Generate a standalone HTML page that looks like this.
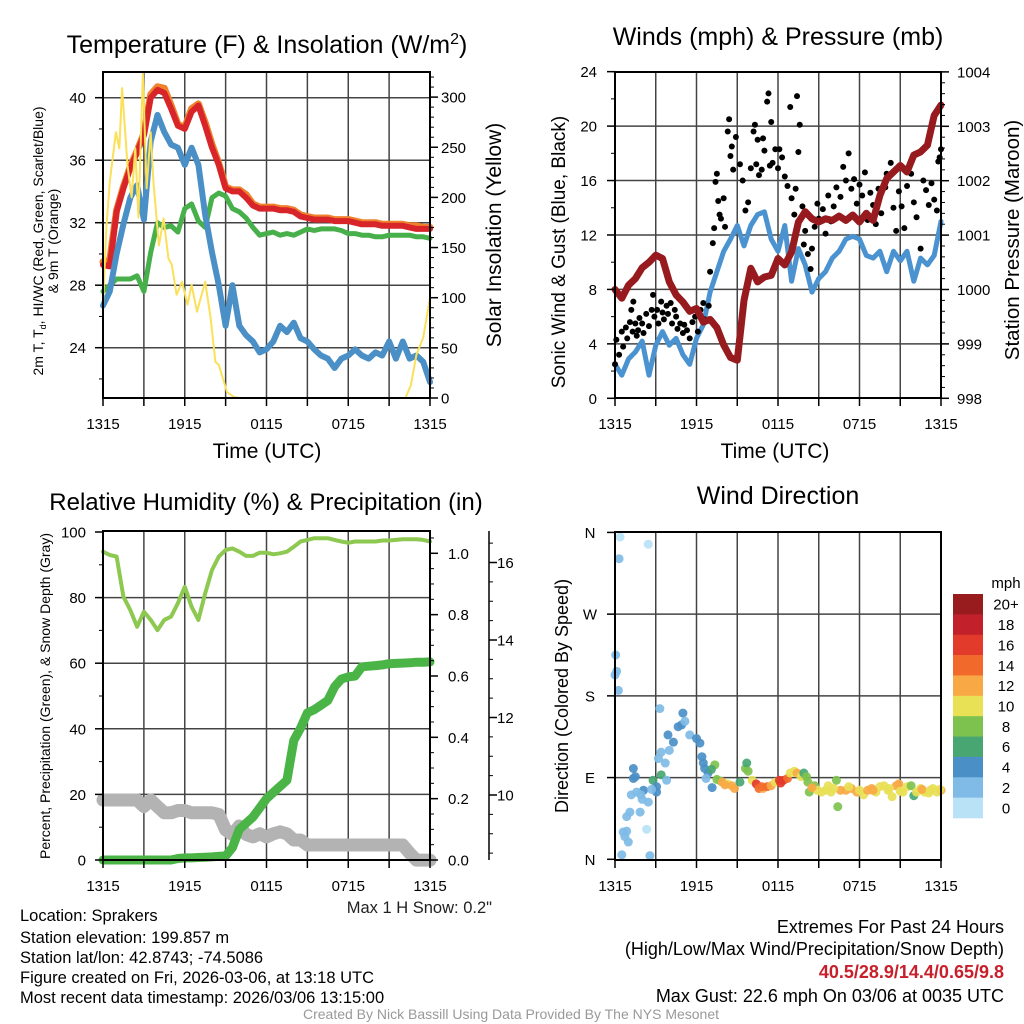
<!DOCTYPE html>
<html><head><meta charset="utf-8"><style>
body{margin:0;background:#fff;}
svg{display:block;font-family:"Liberation Sans",Arial,sans-serif;}
</style></head><body>
<svg id="c" width="1024" height="1024" viewBox="0 0 1024 1024" xmlns="http://www.w3.org/2000/svg">
<rect x="0" y="0" width="1024" height="1024" fill="#fff"/>
<text x="267" y="53" font-size="25" text-anchor="middle">Temperature (F) &amp; Insolation (W/m<tspan dy="-9" font-size="16">2</tspan><tspan dy="9">)</tspan></text>
<text x="778" y="45" font-size="25" text-anchor="middle">Winds (mph) &amp; Pressure (mb)</text>
<text x="266" y="510" font-size="24" text-anchor="middle">Relative Humidity (%) &amp; Precipitation (in)</text>
<text x="778" y="504" font-size="25" text-anchor="middle">Wind Direction</text>
<text x="267" y="458" font-size="21" text-anchor="middle">Time (UTC)</text>
<text x="775" y="458" font-size="21" text-anchor="middle">Time (UTC)</text>
<text transform="translate(43,241) rotate(-90)" font-size="14" text-anchor="middle">2m T, T<tspan font-size="9" dy="3">d</tspan><tspan dy="-3">, HI/WC (Red, Green, Scarlet/Blue)</tspan></text>
<text transform="translate(58,241) rotate(-90)" font-size="14" text-anchor="middle">&amp; 9m T (Orange)</text>
<text transform="translate(501,235) rotate(-90)" font-size="21" text-anchor="middle">Solar Insolation (Yellow)</text>
<text transform="translate(565,252) rotate(-90)" font-size="19" text-anchor="middle">Sonic Wind &amp; Gust (Blue, Black)</text>
<text transform="translate(1019,240) rotate(-90)" font-size="20.5" text-anchor="middle">Station Pressure (Maroon)</text>
<text transform="translate(50,696) rotate(-90)" font-size="14" text-anchor="middle">Percent, Precipitation (Green), &amp; Snow Depth (Gray)</text>
<text transform="translate(568,696) rotate(-90)" font-size="18" text-anchor="middle">Direction (Colored By Speed)</text>
<text x="492" y="913" font-size="16.5" text-anchor="end" fill="#222">Max 1 H Snow: 0.2"</text>
<g font-size="16.5" fill="#000">
<text x="20" y="921">Location: Sprakers</text>
<text x="20" y="943">Station elevation: 199.857 m</text>
<text x="20" y="963">Station lat/lon: 42.8743; -74.5086</text>
<text x="20" y="983">Figure created on Fri, 2026-03-06, at 13:18 UTC</text>
<text x="20" y="1003">Most recent data timestamp: 2026/03/06 13:15:00</text>
</g>
<g font-size="18" text-anchor="end">
<text x="1004" y="933">Extremes For Past 24 Hours</text>
<text x="1004" y="955">(High/Low/Max Wind/Precipitation/Snow Depth)</text>
<text x="1004" y="978" fill="#c8202a" font-weight="bold">40.5/28.9/14.4/0.65/9.8</text>
<text x="1004" y="1002">Max Gust: 22.6 mph On 03/06 at 0035 UTC</text>
</g>
<text x="511" y="1019" font-size="14" fill="#999" text-anchor="middle">Created By Nick Bassill Using Data Provided By The NYS Mesonet</text>
<text x="1006" y="588" font-size="15" text-anchor="middle">mph</text>
</svg>
<script>
// ---- data ----
const hours = [0,0.5,1,1.5,2,2.5,3,3.5,4,4.5,5,5.5,6,6.5,7,7.5,8,8.5,9,9.5,10,10.5,11,11.5,12,12.5,13,13.5,14,14.5,15,15.5,16,16.5,17,17.5,18,18.5,19,19.5,20,20.5,21,21.5,22,22.5,23,23.5,24];
const timeLabels = ["1315","1915","0115","0715","1315"];
const timeLabelHours = [0,6,12,18,24];
const minorTimeHours = [0,3,6,9,12,15,18,21,24];
const tempRed = [29.3,29.2,32.7,34.2,35.5,36.5,37.6,40,40.5,40.3,39.3,38.2,38,39.1,39.5,38.2,36.8,35.7,34.2,34,34,33.6,33.1,32.9,32.9,32.9,32.8,32.8,32.7,32.4,32.3,32.2,32.2,32.2,32.1,32.1,32.1,32,31.9,31.9,31.9,31.8,31.8,31.8,31.8,31.7,31.6,31.6,31.6];
const temp9mOrange = [29.5,29.6,32.8,34.3,35.6,36.6,37.7,40.2,40.7,40.6,39.5,38.3,38.1,39.3,39.6,38.4,37,35.8,34.3,34.1,34.1,33.8,33.2,33,33,33,32.9,32.9,32.8,32.5,32.4,32.3,32.3,32.3,32.2,32.2,32.2,32.1,32,32,32,31.9,31.9,31.9,31.9,31.8,31.8,31.7,31.7];
const dewGreen = [27.6,28,28.4,28.4,28.4,28.6,27.6,30.1,32,31.7,31.8,31.4,32.9,33.2,32.1,31.7,33.6,33.9,33.7,32.9,32.7,32.3,31.7,31.2,31.3,31.4,31.2,31.3,31.2,31.4,31.6,31.5,31.6,31.6,31.6,31.5,31.3,31.3,31.2,31.2,31.1,31.1,31.2,31.2,31.2,31.2,31.1,31.1,31.0];
const windChillBlue = [26.7,27.6,30,31.9,33.6,34.4,32.2,37.2,38.9,37.8,37,36.8,35.7,36.8,35.7,32.5,30.1,28,25.4,28,25.4,24.8,24.4,23.7,23.9,24.4,25.4,25,25.6,24.6,24.4,23.9,23.5,23.3,22.7,23.3,23.5,23.9,23.5,23.3,23.7,23.5,24.4,23.3,24.4,23.3,23.5,23.1,21.8];
const solarHours = [0,0.25,0.5,0.95,1.2,1.4,1.8,2.1,2.37,2.6,2.93,3.2,3.5,3.7,4.1,4.45,4.8,5.05,5.4,5.8,6.2,6.5,6.9,7.5,7.9,8.25,8.5,9.1,9.6,10,22.2,22.6,23,23.5,24];
const solarYellow = [93,170,216,265,249,309,232,200,249,180,324,209,265,216,152,179,139,133,103,116,93,113,86,116,80,36,33,6,1,0,0,13,43,60,100];
const tempTicks = [24,28,32,36,40];
const solarTicks = [0,50,100,150,200,250,300];

const windBlue = [2.5,1.7,2.9,3.4,4.2,1.7,3.9,4.9,3.9,4.4,3.2,2.5,4.4,5.4,7.8,9.3,10.8,11.7,12.7,11.2,12.7,13.5,13.7,11.7,10.8,12.7,8.6,11,9.8,7.8,8.8,9.3,10.3,10.8,11.7,11.9,11.7,10.5,10.3,10.8,9.3,10.8,10.1,10.8,8.6,10.3,9.8,10.5,13.0];
const pressureMaroon = [1000,999.84,1000.08,1000.2,1000.4,1000.5,1000.63,1000.57,1000.14,999.9,999.77,999.6,999.65,999.4,999.45,999.3,998.98,998.75,998.7,999.8,1000.39,1000.14,1000.23,1000.26,1000.57,1000.45,1000.69,1001.24,1001.43,1001.3,1001.24,1001.3,1001.27,1001.35,1001.27,1001.37,1001.24,1001.4,1001.27,1001.73,1002.04,1002.16,1002.28,1002.16,1002.47,1002.53,1002.65,1003.2,1003.39];
const gustHours = [0,0.1,0.3,0.5,0.6,0.8,0.9,1.1,1.2,1.3,1.35,1.5,1.6,1.7,1.8,2.0,2.1,2.3,2.5,2.7,2.8,2.9,3.1,3.2,3.4,3.5,3.6,3.8,3.9,4.1,4.2,4.4,4.5,4.6,4.8,5.0,5.1,5.3,5.5,5.7,5.9,6.1,6.3,6.5,6.6,6.9,7.0,7.2,7.3,7.4,7.5,7.6,7.7,7.8,8.0,8.1,8.3,8.4,8.5,8.6,8.7,8.9,9.2,9.4,9.6,9.8,10.0,10.2,10.3,10.4,10.5,10.6,10.8,10.9,11.0,11.2,11.3,11.4,11.5,11.6,11.8,12.0,12.1,12.3,12.5,12.7,12.9,13.0,13.2,13.3,13.4,13.5,13.6,13.8,13.9,14.0,14.2,14.4,14.5,14.7,14.9,15.0,15.3,15.5,15.7,15.9,16.1,16.3,16.6,16.8,17.0,17.2,17.4,17.6,17.8,18.0,18.2,18.4,18.6,18.8,19.0,19.2,19.4,19.6,19.9,20.0,20.3,20.5,20.7,20.9,21.1,21.3,21.5,21.8,22.0,22.2,22.5,22.7,22.9,23.1,23.3,23.5,23.7,23.8,23.9,24.0];
const gustValues = [2.5,4.3,3.2,4.9,3.8,5.2,4.4,5.6,6.5,4.9,7.1,5.5,4.6,5.0,5.9,5.5,4.8,6.2,5.3,6.5,7.6,6.0,6.5,5.5,7.1,6.3,5.8,6.8,6.2,7.0,5.5,6.5,6.0,5.1,5.5,4.8,5.4,5.0,4.4,5.6,6.0,4.9,6.5,7.0,5.8,6.8,9.3,11.4,12.5,15.9,16.5,14.5,13.5,13.2,14.7,12.6,19.6,20.5,17.8,18.5,16.8,19.2,17.2,16.0,13.8,14.4,16.9,19.6,20.1,17.2,19.0,16.4,16.8,19.1,18.2,21.8,22.4,17.1,20.3,17.3,18.3,16.9,18.3,17.7,16.3,15.6,21.4,14.7,13.5,15.4,22.2,18.1,20.1,14.1,11.3,12.3,10.6,9.5,11.0,12.6,14.3,13.2,13.9,12.1,14.9,13.0,14.1,15.5,14.8,17.0,16.0,18.0,15.4,16.1,14.3,15.7,14.9,16.6,13.1,15.1,14.2,12.8,15.4,13.6,15.5,16.5,17.3,14.0,12.3,15.2,14.1,12.5,15.6,16.5,14.4,13.3,11.0,16.0,15.3,14.2,15.8,14.6,13.8,17.4,17.7,18.3];
const windTicks = [0,4,8,12,16,20,24];
const pressureTicks = [998,999,1000,1001,1002,1003,1004];

const rhGreen = [94,93,92.5,80.3,76.2,71.1,75.7,73.2,70.1,73.2,74.2,78.3,83.3,77.2,73.2,81.3,88.4,92.5,94.5,95,94,92.7,92.7,93.7,93.7,93.2,93.5,94,95.5,97.1,97.6,98.1,98.1,98.1,97.6,97.1,96.7,97.1,97.1,97.1,97.1,97.4,97.4,97.6,97.8,97.8,97.8,97.6,97.1];
const precipGreen = [0,0,0,0,0,0,0,0,0,0,0,0.005,0.007,0.007,0.008,0.009,0.01,0.012,0.013,0.04,0.1,0.12,0.14,0.17,0.2,0.22,0.24,0.26,0.39,0.43,0.48,0.49,0.505,0.52,0.565,0.59,0.597,0.6,0.63,0.632,0.634,0.636,0.64,0.641,0.642,0.643,0.645,0.645,0.646];
const snowGray = [9.87,9.87,9.87,9.87,9.87,9.87,9.7,9.87,9.7,9.54,9.54,9.6,9.6,9.54,9.54,9.54,9.54,9.5,9.1,8.98,9.2,8.98,8.92,9.0,8.92,9.0,9.05,9.0,8.84,8.84,8.71,8.71,8.71,8.71,8.71,8.71,8.71,8.71,8.71,8.71,8.71,8.71,8.71,8.71,8.71,8.5,8.32,8.32,8.32];
const percentTicks = [0,20,40,60,80,100];
const precipTicks = [0,0.2,0.4,0.6,0.8,1.0];
const snowTicks = [10,12,14,16];

const dirHours = [0.37,2.45,0.3,0.05,0.12,0,0.25,3.3,5.0,4.65,4.9,5.15,3.9,4.3,5.5,6.0,6.25,4.0,3.4,3.2,6.4,3.7,6.5,6.6,6.85,7.35,7.1,6.7,7.15,1.35,1.35,1.5,2.8,3.4,3.8,3.06,3.06,2.1,2.7,1.2,1.6,1.9,2.0,2.45,1.1,0.86,1.85,0.6,0.86,0.73,0.98,2.33,0.5,2.57,7.5,7.8,7.9,8.3,8.6,8.8,9.2,9.6,9.7,9.8,10.1,10.4,10.6,10.9,11.2,11.5,11.8,12.1,12.4,12.7,12.9,13.2,13.4,13.7,13.9,14.1,14.2,14.3,14.7,14.9,15.2,15.5,15.7,15.9,16.3,16.4,16.6,17.0,17.4,17.8,18.0,18.3,18.6,18.9,19.2,19.5,19.8,20.1,20.4,20.7,20.9,21.2,21.5,21.8,22.0,22.2,22.5,22.8,23.1,23.4,23.7,24.0,8.1,10.8,12.2,14.5,16.1,17.2,19.0,20.2,21.0,22.6,23.2,23.9];
const dirDegrees = [355,347,331,225,207,203,186,166,161,146,148,152,137,129,137,133,128,120,118,111,113,106,106,100,95,104,99,89,79,100,89,91,87,93,87,80,74,76,77,71,74,71,66,63,52,47,52,30,31,25,19,33,5,4,88,86,85,83,81,78,85,100,106,97,87,83,78,78,80,81,85,87,87,89,95,97,95,91,95,91,85,74,81,76,74,76,81,74,87,58,76,76,78,74,76,71,76,78,74,80,81,76,69,81,83,74,80,81,70,74,78,74,73,78,74,76,82,80,84,79,78,80,76,78,75,77,76,77];
const dirSpeeds = [0,0,2,2,2,2,2,2,4,4,4,2,4,4,2,4,4,2,2,2,4,2,4,4,4,8,6,2,4,4,4,4,6,6,2,4,4,4,2,2,2,2,2,2,2,2,2,2,2,2,2,0,2,2,8,8,12,10,12,12,6,8,6,8,10,16,14,12,14,12,10,16,16,14,10,10,12,10,6,8,8,8,8,10,10,10,10,10,8,8,12,12,12,12,10,10,12,12,10,10,10,10,10,12,12,10,10,8,6,10,10,10,10,10,10,12,12,14,16,12,10,10,12,10,10,12,10,10];
const speedBins = [0,2,4,6,8,10,12,14,16,18,20];
const speedBinLabels = ["0","2","4","6","8","10","12","14","16","18","20+"];
const speedColors = ["#b9e2f7","#7fbbe6","#4a8fc5","#48a672","#7dc24e","#e8e055","#f8a945","#f26a2b","#e23a2b","#c2202a","#981b1e"];
const dirTicks = [0,90,180,270,360];
const dirTickLabels = ["N","E","S","W","N"];

// ---- drawing ----
const NS = 'http://www.w3.org/2000/svg';
const svg = document.getElementById('c');
function mk(tag, attrs, parent) {
  const e = document.createElementNS(NS, tag);
  for (const k in attrs) e.setAttribute(k, attrs[k]);
  (parent || svg).appendChild(e);
  return e;
}
function group(name) {
  const g = mk('g', {});
  
  
  return g;
}
function pathD(xs, ys, fx, fy) {
  return xs.map((t, i) => (i ? 'L' : 'M') + fx(t).toFixed(1) + ',' + fy(ys[i]).toFixed(1)).join('');
}

const P1 = {l:103, r:430, t:72, b:398};
const P2 = {l:615, r:941, t:72, b:398};
const P3 = {l:103, r:430, t:531, b:860};
const P4 = {l:615, r:941, t:532, b:860};
function xScale(P) { return h => P.l + h * (P.r - P.l) / 24; }
const x1 = xScale(P1), x2 = xScale(P2), x3 = xScale(P3), x4 = xScale(P4);
const yTemp = v => 97.7 + (40 - v) * 15.625;
const ySolar = v => 398 - v * 1.003;
const yWind = v => 398.3 - v * 13.61;
const yPres = v => 398.3 - (v - 998) * 54.4;
const yPct = v => 860 - v * 3.28;
const yPrecip = v => 860 - v * 306.7;
const ySnow = v => 795 - (v - 10) * 38.75;
const yDir = v => 859.3 - v * 0.908;

function grid(P, fx, fy, hYs, name) {
  const g = group(name);
  minorTimeHours.forEach(h => {
    if (h === 0 || h === 24) return;
    const ln = mk('line', {x1: fx(h), x2: fx(h), y1: P.t, y2: P.b, stroke: '#444', 'stroke-width': 1.5}, g);
    
    
  });
  hYs.forEach(v => {
    const ln = mk('line', {x1: P.l, x2: P.r, y1: fy(v), y2: fy(v), stroke: '#444', 'stroke-width': 1.5}, g);
    
    
  });
}
function frame(P, name) {
  const r = mk('rect', {x: P.l, y: P.t, width: P.r - P.l, height: P.b - P.t, fill: 'none', stroke: '#000', 'stroke-width': 2});
  
  
}
function xAxis(P, fx, name) {
  const g = group(name);
  minorTimeHours.forEach(h => {
    const ln = mk('line', {x1: fx(h), x2: fx(h), y1: P.b, y2: P.b + 8, stroke: '#000', 'stroke-width': 1.5}, g);
    
    
  });
  timeLabelHours.forEach((h, i) => {
    const t = mk('text', {x: fx(h), y: P.b + 31, 'font-size': 15, 'text-anchor': 'middle'}, g);
    t.textContent = timeLabels[i];
    
    
  });
}
function yAxis(xEdge, side, fy, majors, labels, minors, name, labelX, anchor) {
  const g = group(name);
  const s = side === 'left' ? -1 : 1;
  minors.forEach(v => {
    const ln = mk('line', {x1: xEdge, x2: xEdge + s * 4, y1: fy(v), y2: fy(v), stroke: '#000', 'stroke-width': 1}, g);
    
    
  });
  majors.forEach((v, i) => {
    const ln = mk('line', {x1: xEdge, x2: xEdge + s * 8, y1: fy(v), y2: fy(v), stroke: '#000', 'stroke-width': 1.5}, g);
    
    
    const t = mk('text', {x: labelX, y: fy(v) + 5.5, 'font-size': 15, 'text-anchor': anchor}, g);
    t.textContent = labels[i];
    
    
  });
}
function range(a, b, s) { const o = []; for (let v = a; v <= b + 1e-9; v += s) o.push(+v.toFixed(3)); return o; }
function line(xs, ys, fx, fy, color, w, name) {
  const p = mk('path', {d: pathD(xs, ys, fx, fy), fill: 'none', stroke: color, 'stroke-width': w, 'stroke-linejoin': 'round', 'stroke-linecap': 'round'});
  
  
}

// Panel 1
grid(P1, x1, yTemp, tempTicks, 'temperature-grid');
line(hours, temp9mOrange, x1, yTemp, '#f0822d', 7, 'temp-9m-orange-line');
line(hours, tempRed, x1, yTemp, '#d7252a', 6, 'temp-2m-red-line');
line(hours, dewGreen, x1, yTemp, '#48b04a', 5, 'dewpoint-green-line');
line(hours, windChillBlue, x1, yTemp, '#4a8fc5', 6, 'windchill-blue-line');
line(solarHours, solarYellow, x1, ySolar, '#fbe05a', 2, 'solar-yellow-line');
frame(P1, 'temperature-plot-frame');
xAxis(P1, x1, 'temperature-x-axis');
yAxis(P1.l, 'left', yTemp, tempTicks, tempTicks.map(String), range(22, 40, 2), 'temperature-y-axis', 86, 'end');
yAxis(P1.r, 'right', ySolar, solarTicks, solarTicks.map(String), range(0, 320, 10), 'solar-y-axis', 441, 'start');

// Panel 2
grid(P2, x2, yWind, [4,8,12,16,20], 'winds-grid');
line(hours, windBlue, x2, yWind, '#4b93d0', 5, 'sonic-wind-blue-line');
const gg = group('gust-points');
gustHours.forEach((h, i) => {
  const c = mk('circle', {cx: x2(h), cy: yWind(gustValues[i]), r: 3, fill: '#000'}, gg);
  
  
});
line(hours, pressureMaroon, x2, yPres, '#961a1e', 7, 'pressure-maroon-line');
frame(P2, 'winds-plot-frame');
xAxis(P2, x2, 'winds-x-axis');
yAxis(P2.l, 'left', yWind, windTicks, windTicks.map(String), range(0, 24, 2), 'wind-y-axis', 597, 'end');
yAxis(P2.r, 'right', yPres, pressureTicks, pressureTicks.map(String), range(998, 1004, 0.2), 'pressure-y-axis', 957, 'start');

// Panel 3
grid(P3, x3, yPct, [20,40,60,80], 'humidity-grid');
line(hours, rhGreen, x3, yPct, '#8dc850', 4, 'relative-humidity-line');
line(hours, snowGray, x3, ySnow, '#b3b3b3', 13, 'snow-depth-gray-line');
line(hours, precipGreen, x3, yPrecip, '#4bb446', 9, 'precipitation-green-line');
frame(P3, 'humidity-plot-frame');
xAxis(P3, x3, 'humidity-x-axis');
yAxis(P3.l, 'left', yPct, percentTicks, percentTicks.map(String), range(0, 100, 10), 'percent-y-axis', 86, 'end');
yAxis(P3.r, 'right', yPrecip, precipTicks, precipTicks.map(v => v.toFixed(1)), range(0, 1.05, 0.05), 'precip-y-axis', 448, 'start');
const sa = mk('line', {x1: 489, x2: 489, y1: 531, y2: 860, stroke: '#000', 'stroke-width': 1.5});


yAxis(489, 'right', ySnow, snowTicks, snowTicks.map(String), range(8.5, 16.5, 0.5), 'snow-y-axis', 497, 'start');

// Panel 4
grid(P4, x4, yDir, [90,180,270], 'direction-grid');
const dg = group('direction-points');
dirHours.forEach((h, i) => {
  let bi = 0;
  speedBins.forEach((b, j) => { if (dirSpeeds[i] >= b) bi = j; });
  const c = mk('circle', {cx: x4(h), cy: yDir(dirDegrees[i]), r: 4.5, fill: speedColors[bi], 'fill-opacity': 0.92}, dg);
  
  
});
frame(P4, 'direction-plot-frame');
xAxis(P4, x4, 'direction-x-axis');
yAxis(P4.l, 'left', yDir, dirTicks, dirTickLabels, [], 'direction-y-axis', 590, 'middle');

// Colorbar
const cb = group('speed-colorbar');
const binH = (818 - 594) / speedColors.length;
speedColors.forEach((col, i) => {
  const k = speedColors.length - 1 - i;
  const r = mk('rect', {x: 953, y: 594 + i * binH, width: 30, height: binH + 0.3, fill: speedColors[k]}, cb);
  
  
  const t = mk('text', {x: 1006, y: 594 + i * binH + binH / 2 + 5.5, 'font-size': 15, 'text-anchor': 'middle'}, cb);
  t.textContent = speedBinLabels[k];
  
  
});
</script>
</body></html>
